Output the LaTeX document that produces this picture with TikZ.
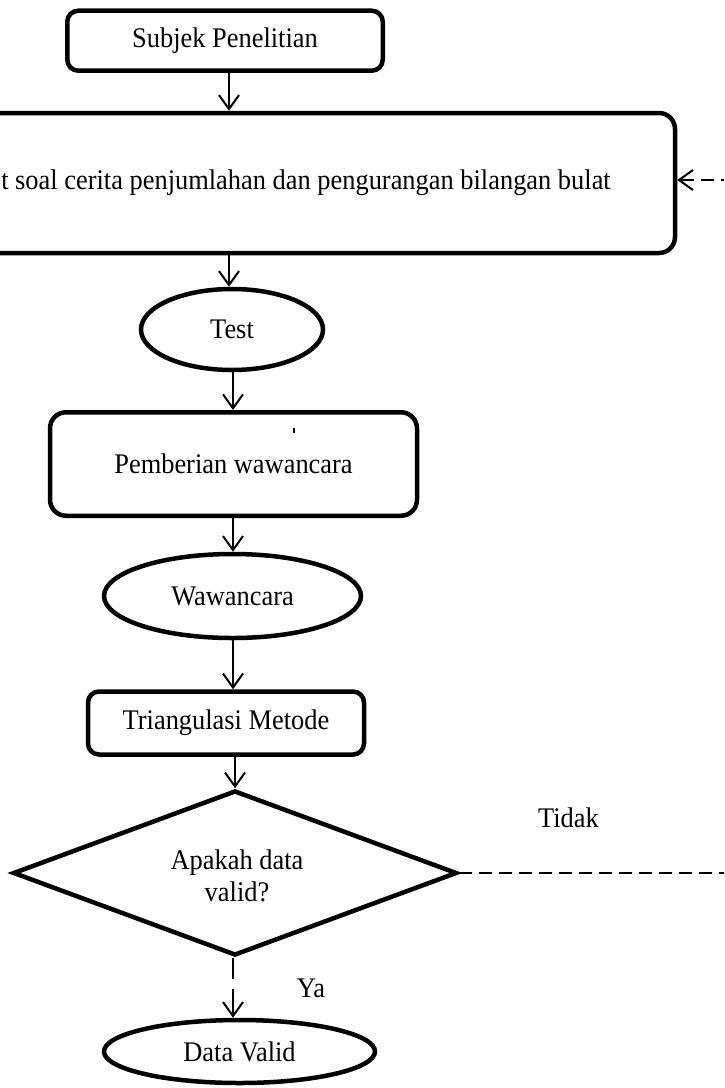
\documentclass[tikz,border=0pt]{standalone}
\usepackage{fontspec}
\setmainfont{Liberation Serif}[FakeStretch=0.93]
\usetikzlibrary{shapes.geometric,arrows.meta}
\begin{document}
\begin{tikzpicture}[x=1pt,y=-1pt,
  font=\fontsize{28.4}{32}\selectfont,
  box/.style={draw, line width=4.5pt, rounded corners=13pt, inner sep=0pt},
  oval/.style={draw, ellipse, line width=4.5pt, inner sep=0pt},
  dia/.style={draw, diamond, line width=4.5pt, inner sep=0pt},
  arr/.style={line width=2pt, -{Straight Barb[length=14pt,width=20pt,line width=2pt]}},
  dsh/.style={arr, dash pattern=on 13pt off 7pt}]
\useasboundingbox (0,0) rectangle (724,1088);
\clip (0,0) rectangle (724,1088);
\fill[white] (0,0) rectangle (724,1088);

% column coordinates for the connectors
\coordinate (c1) at (229,0);
\coordinate (c2) at (233,0);
\coordinate (c3) at (235,0);
\coordinate (ret) at (760,180);

\node[box, rounded corners=11pt, minimum width=315.5pt, minimum height=60pt] (subj) at (225,40.7) {Subjek Penelitian};
\node[box, rounded corners=16pt, minimum width=738pt, minimum height=140pt] (main) at (306,183) {t soal cerita penjumlahan dan pengurangan bilangan bulat};
\node[oval, minimum width=182pt, minimum height=81pt] (test) at (232,329.5) {Test};
\node[box, rounded corners=16pt, minimum width=367pt, minimum height=103.5pt] (pemb) at (233.5,464) {Pemberian wawancara};
\node[oval, minimum width=257pt, minimum height=84pt] (waw) at (232.5,596) {Wawancara};
\node[box, rounded corners=11pt, minimum width=276pt, minimum height=63pt] (tri) at (226,723) {Triangulasi Metode};
\node[dia, minimum width=444pt, minimum height=165pt] (dec) at (235,873) {};
\node[align=center, inner sep=0pt] (dectext) at (237,876) {Apakah data\\valid?};
\node[oval, minimum width=271pt, minimum height=63pt] (valid) at (239.5,1051.5) {Data Valid};

\node[anchor=base, inner sep=0pt] (tidak) at (568.5,827) {Tidak};
\node[anchor=base, inner sep=0pt] (ya) at (311,997) {Ya};

% small mark inside the interview box
\fill (292.5,428) rectangle (294.5,432.5);

% connectors
\draw[arr] (subj.south -| c1) -- (main.north -| c1);
\draw[arr] (main.south -| c1) -- (test.north -| c1);
\draw[arr] (test.south -| c2) -- (pemb.north -| c2);
\draw[arr] (pemb.south -| c2) -- (waw.north -| c2);
\draw[arr] (waw.south -| c2) -- (tri.north -| c2);
\draw[arr] (tri.south -| c3) -- (dec.north);
\draw[arr, dash pattern=on 21pt off 10pt on 80pt off 0pt] (dec.south -| c2) -- (valid.north -| c2);
\draw[dsh] (dec.east) -- (dec.east -| ret) -- (ret) -- (main.east |- ret);
\end{tikzpicture}
\end{document}
